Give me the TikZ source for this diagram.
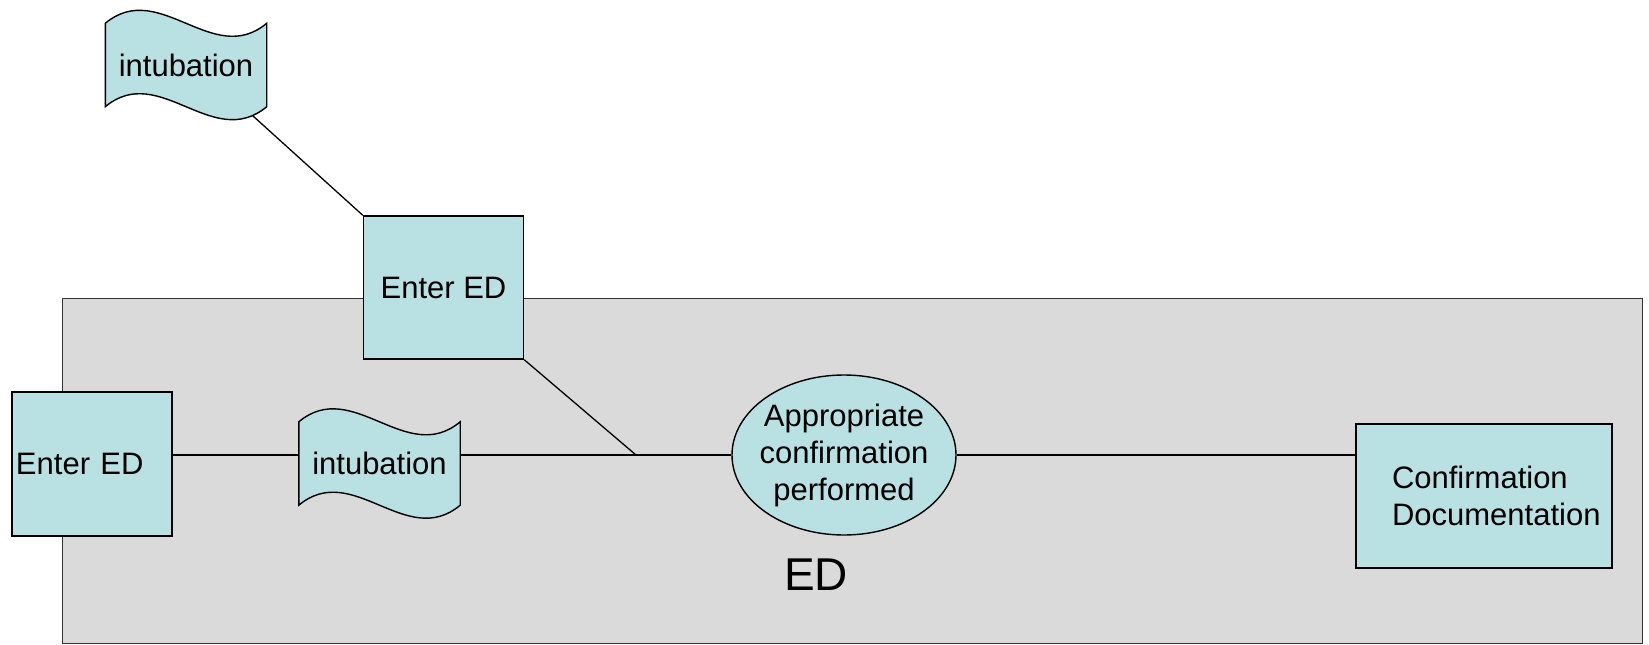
\documentclass[tikz,border=0pt]{standalone}
\usepackage{fontspec}
\setmainfont{Liberation Sans}
\usetikzlibrary{shapes.geometric}
\definecolor{stepfill}{RGB}{185,224,227}
\definecolor{edgray}{RGB}{218,218,218}
\pgfdeclarelayer{back}
\pgfsetlayers{back,main}

\newcommand{\punchtape}[1]{%
    \begin{pgfonlayer}{back}
        \draw[fill=stepfill,line width=1.4pt] (#1.north west)
        .. controls +(54pt,45pt) and +(-54pt,-45pt) .. (#1.north east)
        -- (#1.south east)
        .. controls +(-54pt,-45pt) and +(54pt,45pt) .. (#1.south west) -- cycle;
    \end{pgfonlayer}}

\begin{document}
\begin{tikzpicture}[x=1pt,y=-1pt,
        txt/.style={font=\fontsize{31}{37}\selectfont},
        box/.style={txt,draw,fill=stepfill,line width=1.4pt,inner sep=0pt},
        act/.style={box,rectangle,minimum width=160pt,minimum height=144pt},
        doc/.style={txt,inner sep=0pt,minimum width=161pt,minimum height=83pt},
        chk/.style={box,ellipse,minimum width=224pt,minimum height=160pt,
            inner xsep=-6pt,align=center}
    ]
    \useasboundingbox (0,0) rectangle (1649,645);

    \begin{pgfonlayer}{back}
        \node[draw=black!80,fill=edgray,line width=1.4pt,anchor=north west,
            minimum width=1580pt,minimum height=345pt] (edarea) at (62,298) {};
    \end{pgfonlayer}
    \node (edlabel) at (816,575) {\fontsize{46}{55}\selectfont ED};

    \node[act,text width=152pt,inner xsep=4pt,align=left] (enterA) at (92,464) {Enter ED};
    \node[act,minimum height=143pt] (enterB) at (443.5,287.5) {Enter ED};
    \node[doc] (tapeA) at (186,65) {intubation};
    \punchtape{tapeA}
    \node[doc] (tapeB) at (379.5,463.5) {intubation};
    \punchtape{tapeB}
    \node[chk] (check) at (844,455) {Appropriate\\confirmation\\performed};
    \node[act,text width=184pt,inner xsep=36pt,align=left] (confdoc) at (1484,496)
        {Confirmation\\Documentation};
    \coordinate (join) at (636,455);

    \path[draw,line width=1.6pt]
    (enterA.east |- check.west) edge (tapeB.west |- check.west)
    (tapeB.east |- check.west) edge (check.west)
    (check.east) edge (confdoc.west |- check.east)
    ([shift={(-14,9)}]tapeA.south east) edge[line width=1.3pt] (enterB.north west)
    (enterB.south east) edge[line width=1.3pt] (join);
\end{tikzpicture}
\end{document}
